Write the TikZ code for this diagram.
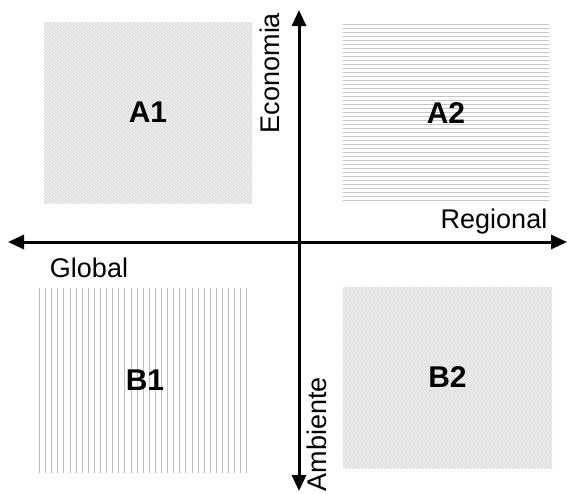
\documentclass[tikz,border=0pt]{standalone}
\usepackage{fontspec}
\setmainfont{Liberation Sans}
\usetikzlibrary{arrows.meta,calc}
\tikzset{
  quadbox/.style={draw=none, inner sep=0pt, font=\bfseries\fontsize{30}{30}\selectfont},
  diaghatch/.style={fill=gray!8, path picture={
      \foreach \k in {-200,-196.8,...,230}{
        \draw[gray!32, line width=0.9pt]
          ($(path picture bounding box.north west)+(\k pt,0pt)$) --
          ($(path picture bounding box.north west)+(\k pt+200pt,-200pt)$);
      }}},
  horizhatch/.style={path picture={
      \foreach \k in {1,5,...,200}{
        \draw[gray!45, line width=1pt]
          ($(path picture bounding box.north west)+(0pt,-\k pt)$) --
          ($(path picture bounding box.north east)+(0pt,-\k pt)$);
      }}},
  verthatch/.style={path picture={
      \foreach \j in {0,...,35}{
        \draw[gray!50, line width=1pt]
          ($(path picture bounding box.north west)+(1.5pt+6.1pt*\j,0pt)$) --
          ($(path picture bounding box.south west)+(1.5pt+6.1pt*\j,0pt)$);
      }}},
  axis/.style={line width=3pt, {Triangle[width=14pt,length=16pt]}-{Triangle[width=14pt,length=16pt]}},
  axlabel/.style={font=\fontsize{27}{27}\selectfont, inner sep=0pt}
}
\begin{document}
\begin{tikzpicture}[x=1pt,y=-1pt]
\useasboundingbox (0,0) rectangle (567,493);
\node[quadbox, diaghatch, minimum width=208pt, minimum height=181pt] (A1) at (148,112.5) {A1};
\node[quadbox, horizhatch, minimum width=206pt, minimum height=180pt] (A2) at (446,113) {A2};
\node[quadbox, verthatch, minimum width=214pt, minimum height=185pt] (B1) at (145,380.5) {B1};
\node[quadbox, diaghatch, minimum width=209pt, minimum height=181pt] (B2) at (447.5,377.5) {B2};
\coordinate (L) at (8,242);
\coordinate (R) at (567,242);
\coordinate (T) at (299,10);
\coordinate (Bt) at (299,491);
\draw[axis] (L) -- (R);
\draw[axis] (Bt) -- (T);
\node[axlabel, rotate=90] (eco) at (270,73) {Economia};
\node[axlabel, rotate=90] (amb) at (317,434) {Ambiente};
\node[axlabel] (reg) at (494,222) {Regional};
\node[axlabel] (glo) at (89,268) {Global};
\end{tikzpicture}
\end{document}
